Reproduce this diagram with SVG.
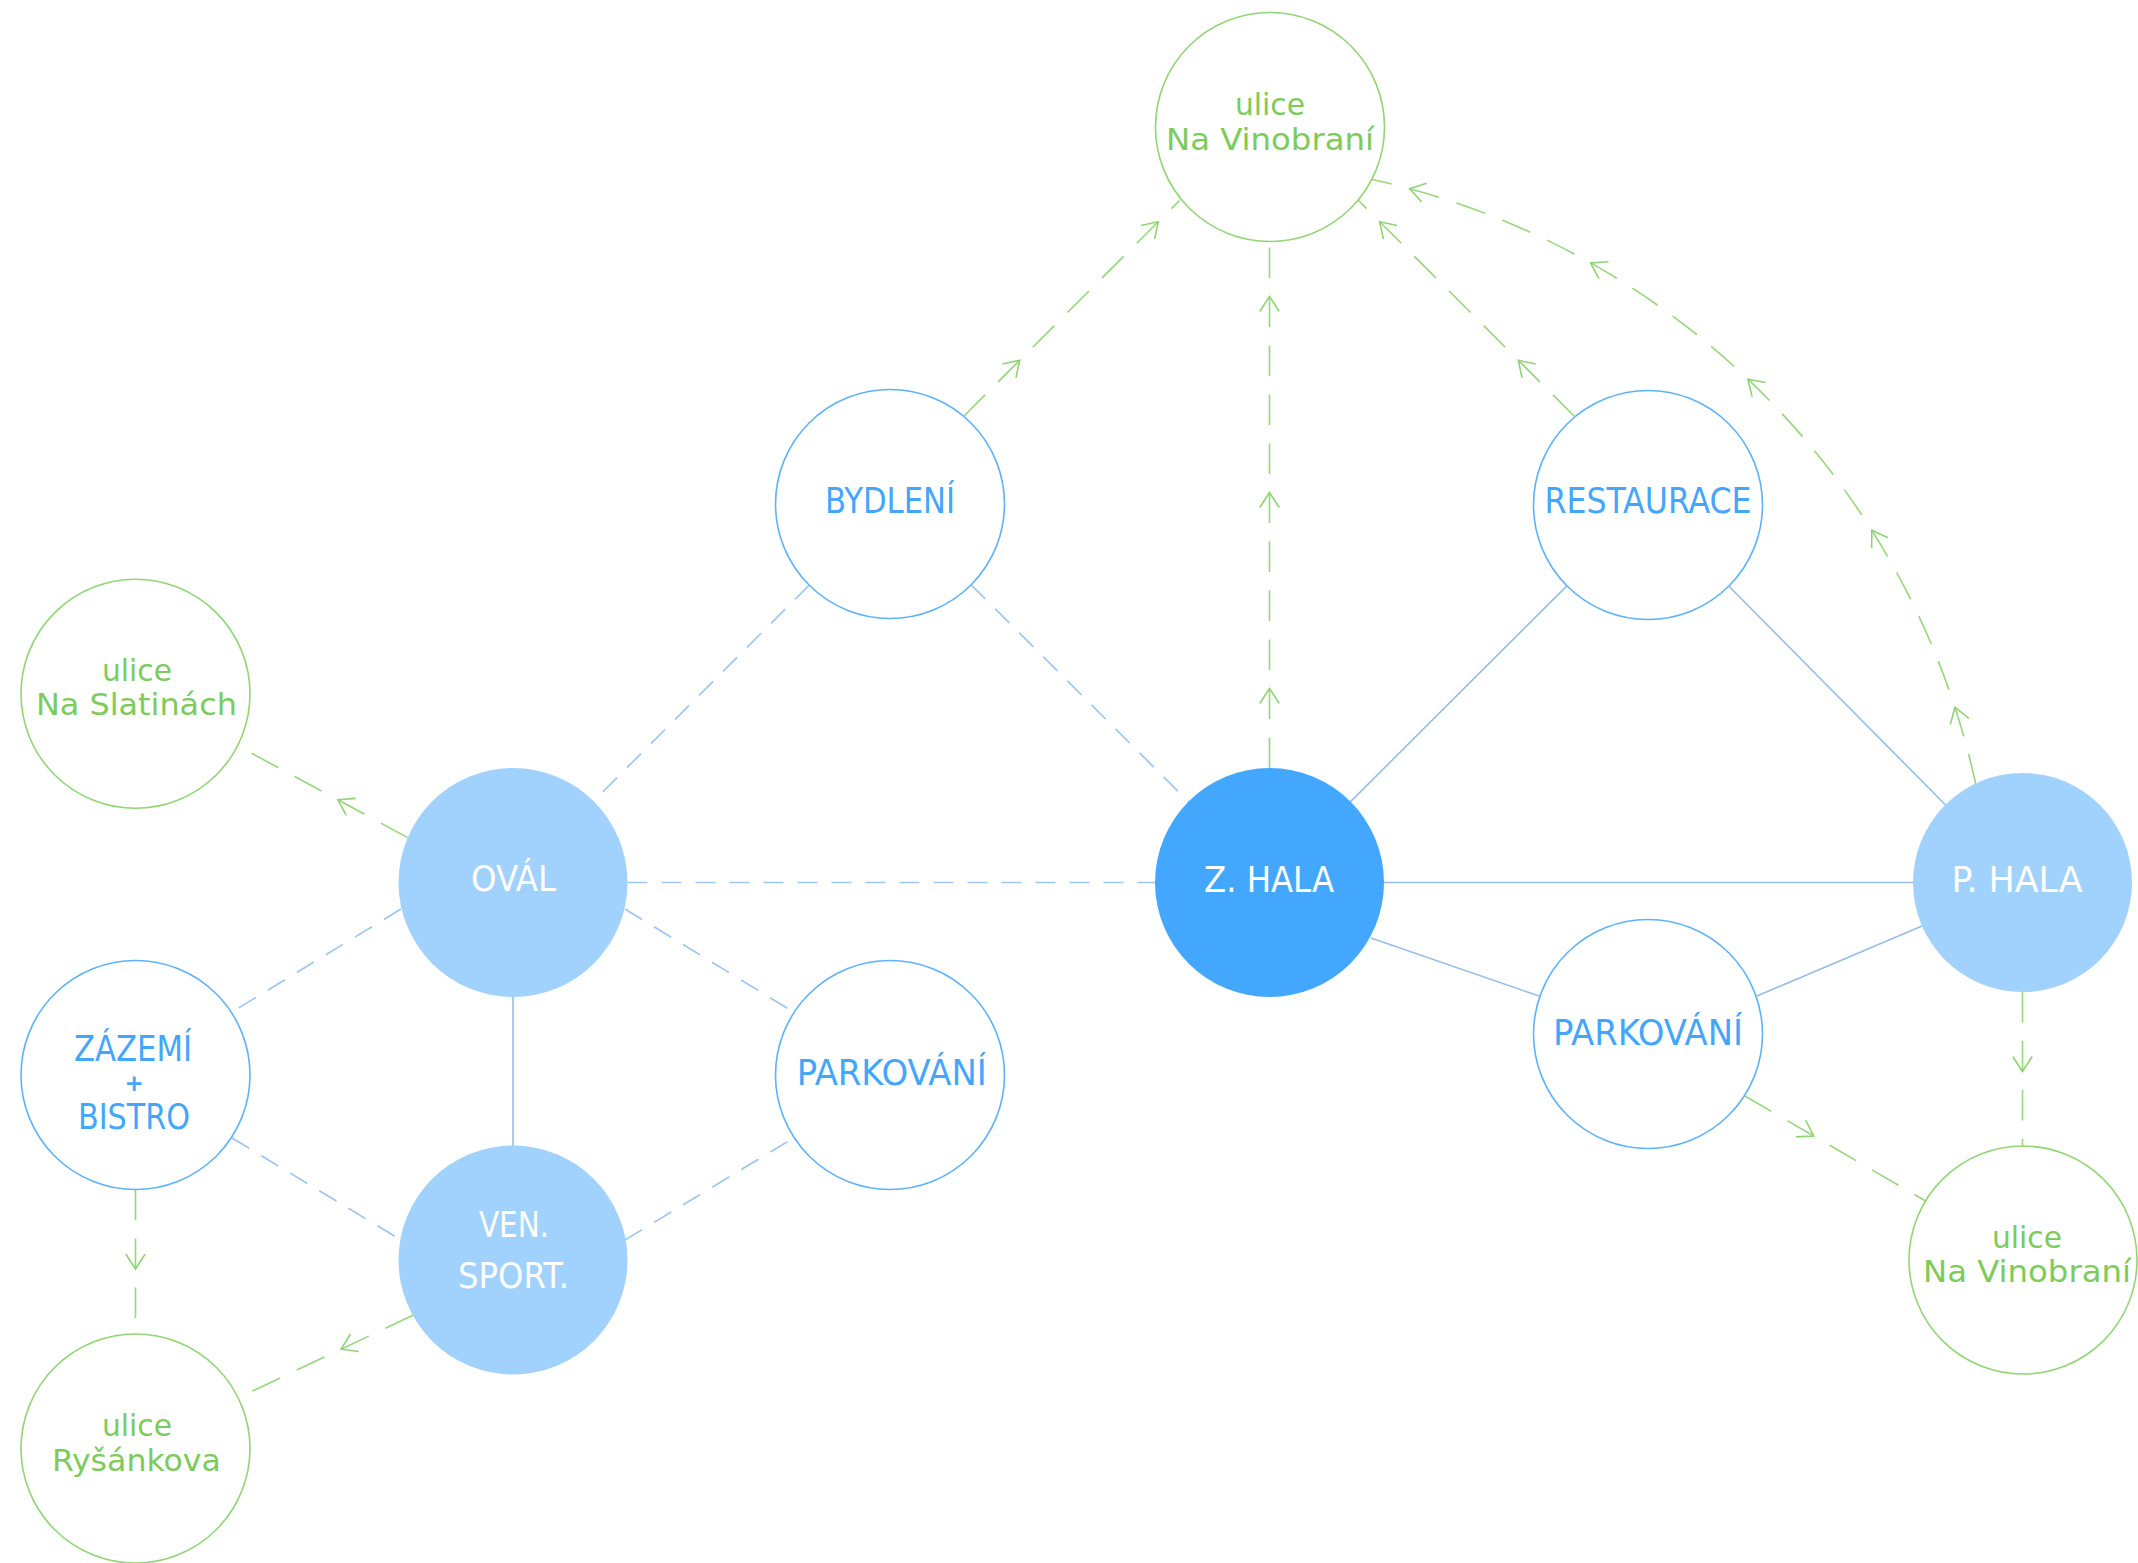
<svg xmlns="http://www.w3.org/2000/svg" width="2138" height="1563" viewBox="0 0 2138 1563">
<defs>
<style>
.nb{fill:#fff;stroke:#5eb2fb;stroke-width:1.6}
.ng{fill:#fff;stroke:#92d575;stroke-width:1.6}
.fl{fill:#a1d1fd}
.fd{fill:#43a8fd}
text{font-family:"DejaVu Sans Condensed","DejaVu Sans",sans-serif;font-stretch:condensed;text-anchor:middle}
.tb{fill:#44a6fb;font-size:35px}
.tw{fill:#ffffff;font-size:35px}
.tg{fill:#7dcb5b;font-size:30.5px}
text.plus{font-family:"DejaVu Sans",sans-serif;font-stretch:normal;font-size:23px;font-weight:bold}
.sb{stroke:#96bce8;stroke-width:1.6;fill:none}
.db{stroke:#9ec5ef;stroke-width:1.7;fill:none;stroke-dasharray:20 14}
.dg{stroke:#95d77a;stroke-width:1.6;fill:none;stroke-dasharray:30.5 18.5;marker-mid:url(#arr)}
</style>
<marker id="arr" markerUnits="userSpaceOnUse" orient="auto" overflow="visible" refX="0" refY="0" markerWidth="20" markerHeight="20" viewBox="-17 -10 18 20">
<path d="M-15,-9.7 L0,0 L-15,9.7" fill="none" stroke="#8fd473" stroke-width="1.6"/>
</marker>
</defs>
<rect width="2138" height="1563" fill="#ffffff"/>
<g id="connectors">
<path class="db" d="M809.2,585.1 L593.8,800.9"/>
<path class="db" d="M971.1,584.8 L1188.4,801.6"/>
<path class="db" d="M627.5,882.5 L1155,882.5"/>
<path class="db" d="M401,909 L232,1012"/>
<path class="db" d="M625,909 L793.5,1012"/>
<path class="db" d="M232,1138 L401,1240"/>
<path class="db" d="M625,1240 L793.5,1138"/>
<path class="sb" d="M513,997 L513,1146"/>
<path class="sb" d="M1350.6,801.6 L1566.9,585.9"/>
<path class="sb" d="M1729,586.3 L1945.4,804.8"/>
<path class="sb" d="M1384,882.5 L1913,882.5"/>
<path class="sb" d="M1371,938 L1539,996"/>
<path class="sb" d="M1757,996 L1922,926"/>
<path class="dg" d="M1269.5,768 L1269.5,688.5 L1269.5,492.5 L1269.5,296.5 L1269.5,241.5"/>
<path class="dg" d="M963.5,416.5 L1019.7,360.3 L1158.3,221.7 L1179.5,200.5"/>
<path class="dg" d="M1574.5,416.5 L1518.3,360.3 L1379.7,221.7 L1358.5,200.5"/>
<path class="dg" d="M1975.7,783.9 A792,792 0 0 0 1954.9,707.2 A792,792 0 0 0 1871.8,530.3 A792,792 0 0 0 1747.9,379.2 A792,792 0 0 0 1590.6,262.9 A792,792 0 0 0 1409.7,188.7 A792,792 0 0 0 1371.1,179.3"/>
<path class="dg" d="M407.7,837.6 L337.8,799.8 L238.2,746"/>
<path class="dg" d="M413,1315.2 L341.1,1349.2 L238.3,1397.7"/>
<path class="dg" d="M135.5,1189.5 L135.5,1269 L135.5,1334"/>
<path class="dg" d="M1745,1096 L1813.7,1136 L1925.6,1201"/>
<path class="dg" d="M2022.5,992 L2022.5,1071.5 L2022.5,1146"/>
</g>
<g id="node-ulice-vinobrani-top">
<circle class="ng" cx="1270" cy="127" r="114.5"/>
<text class="tg" x="1270" y="115" textLength="70" lengthAdjust="spacingAndGlyphs">ulice</text>
<text class="tg" x="1270" y="150" textLength="208" lengthAdjust="spacingAndGlyphs">Na Vinobraní</text>
</g>
<g id="node-bydleni">
<circle class="nb" cx="890" cy="504" r="114.5"/>
<text class="tb" x="890" y="512.5" textLength="130" lengthAdjust="spacingAndGlyphs">BYDLENÍ</text>
</g>
<g id="node-restaurace">
<circle class="nb" cx="1648" cy="505" r="114.5"/>
<text class="tb" x="1648" y="513" textLength="207" lengthAdjust="spacingAndGlyphs">RESTAURACE</text>
</g>
<g id="node-ulice-slatinach">
<circle class="ng" cx="135.5" cy="693.8" r="114.5"/>
<text class="tg" x="137" y="680.7" textLength="70" lengthAdjust="spacingAndGlyphs">ulice</text>
<text class="tg" x="136.4" y="715" textLength="201" lengthAdjust="spacingAndGlyphs">Na Slatinách</text>
</g>
<g id="node-oval">
<circle class="fl" cx="513" cy="882.5" r="114.5"/>
<text class="tw" x="513.5" y="890.7" textLength="85" lengthAdjust="spacingAndGlyphs">OVÁL</text>
</g>
<g id="node-z-hala">
<circle class="fd" cx="1269.5" cy="882.5" r="114.5"/>
<text class="tw" x="1269" y="891.7" textLength="130" lengthAdjust="spacingAndGlyphs">Z. HALA</text>
</g>
<g id="node-p-hala">
<circle class="fl" cx="2022.5" cy="882.5" r="109.5"/>
<text class="tw" x="2017" y="892.3" textLength="131" lengthAdjust="spacingAndGlyphs">P. HALA</text>
</g>
<g id="node-zazemi-bistro">
<circle class="nb" cx="135.5" cy="1075" r="114.5"/>
<text class="tb" x="133" y="1061" textLength="118" lengthAdjust="spacingAndGlyphs">ZÁZEMÍ</text>
<text class="tb plus" x="134.2" y="1091">+</text>
<text class="tb" x="134" y="1129" textLength="112" lengthAdjust="spacingAndGlyphs">BISTRO</text>
</g>
<g id="node-parkovani-left">
<circle class="nb" cx="890" cy="1075" r="114.5"/>
<text class="tb" x="891.7" y="1085" textLength="190" lengthAdjust="spacingAndGlyphs">PARKOVÁNÍ</text>
</g>
<g id="node-ven-sport">
<circle class="fl" cx="513" cy="1260" r="114.5"/>
<text class="tw" x="514" y="1237" textLength="70" lengthAdjust="spacingAndGlyphs">VEN.</text>
<text class="tw" x="513.6" y="1288" textLength="111" lengthAdjust="spacingAndGlyphs">SPORT.</text>
</g>
<g id="node-parkovani-right">
<circle class="nb" cx="1648" cy="1034" r="114.5"/>
<text class="tb" x="1648" y="1044.5" textLength="190" lengthAdjust="spacingAndGlyphs">PARKOVÁNÍ</text>
</g>
<g id="node-ulice-vinobrani-right">
<circle class="ng" cx="2023" cy="1260" r="114"/>
<text class="tg" x="2027" y="1248" textLength="70" lengthAdjust="spacingAndGlyphs">ulice</text>
<text class="tg" x="2027" y="1282" textLength="208" lengthAdjust="spacingAndGlyphs">Na Vinobraní</text>
</g>
<g id="node-ulice-rysankova">
<circle class="ng" cx="135.5" cy="1448.5" r="114.5"/>
<text class="tg" x="137" y="1436" textLength="70" lengthAdjust="spacingAndGlyphs">ulice</text>
<text class="tg" x="136.4" y="1471" textLength="169" lengthAdjust="spacingAndGlyphs">Ryšánkova</text>
</g>
</svg>
